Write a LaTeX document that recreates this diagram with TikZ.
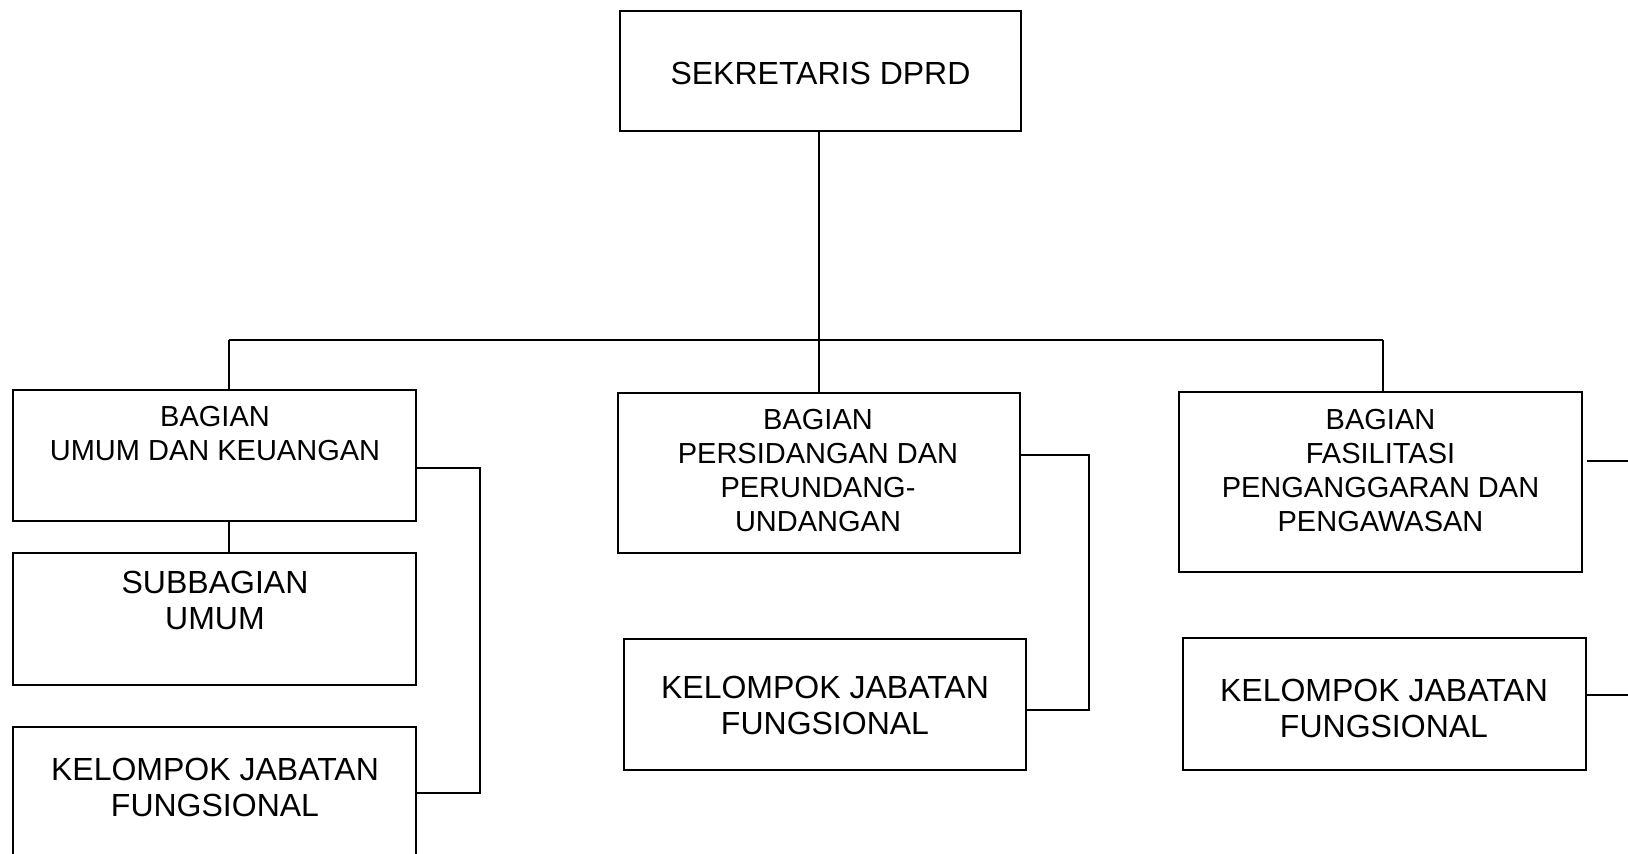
\documentclass[tikz,border=0pt]{standalone}
\usepackage{fontspec}
\setmainfont{Liberation Sans}
\tikzset{
  unit/.style={draw, line width=1.2pt, inner sep=0pt},
  bagtxt/.style={align=center, font=\fontsize{14.5}{17}\selectfont},
  bigtxt/.style={align=center, font=\fontsize{16}{18}\selectfont},
  link/.style={line width=1pt}
}
\begin{document}
\begin{tikzpicture}[x=0.5pt,y=-0.5pt]
        \useasboundingbox (0,0) rectangle (1628,854);

        % Kotak sekretaris
        \node[unit, minimum width=200.5pt, minimum height=60pt] (sek) at (820.5,71) {};
        \node[bigtxt] (sekT) at (820.5,73) {SEKRETARIS DPRD};

        % Kotak bagian
        \node[unit, minimum width=201.5pt, minimum height=65.5pt] (umum) at (214.5,455.5) {};
        \node[unit, minimum width=201pt, minimum height=80pt] (pers) at (819,473) {};
        \node[unit, minimum width=201.5pt, minimum height=90pt] (fasi) at (1380.5,482) {};

        % Subbagian dan kelompok jabatan fungsional
        \node[unit, minimum width=201.5pt, minimum height=66pt] (sub) at (214.5,619) {};
        \node[unit, minimum width=201.5pt, minimum height=80pt] (kjfA) at (214.5,807) {};
        \node[unit, minimum width=201pt, minimum height=65.5pt] (kjfB) at (825,704.5) {};
        \node[unit, minimum width=201.5pt, minimum height=66pt] (kjfC) at (1384.5,704) {};

        % Teks
        \node[bagtxt] (umumT) at (215,434) {BAGIAN\\UMUM DAN KEUANGAN};
        \node[bagtxt] (persT) at (818,471) {BAGIAN\\PERSIDANGAN DAN\\PERUNDANG-\\UNDANGAN};
        \node[bagtxt] (fasiT) at (1380.5,471) {BAGIAN\\FASILITASI\\PENGANGGARAN DAN\\PENGAWASAN};
        \node[bigtxt] (subT) at (215,600) {SUBBAGIAN\\UMUM};
        \node[bigtxt] (kjfAT) at (215,787) {KELOMPOK JABATAN\\FUNGSIONAL};
        \node[bigtxt] (kjfBT) at (825,705) {KELOMPOK JABATAN\\FUNGSIONAL};
        \node[bigtxt] (kjfCT) at (1384,708) {KELOMPOK JABATAN\\FUNGSIONAL};

        % Garis utama
        \coordinate (busL) at (229,340);
        \coordinate (busR) at (1383,340);
        \draw[link] (pers.north |- sek.south) -- (pers.north);
        \draw[link] (busL) -- (busR);
        \draw[link] (busL) -- (busL |- umum.north);
        \draw[link] (busR) -- (busR |- fasi.north);
        \draw[link] (busL |- umum.south) -- (busL |- sub.north);

        % Kurung kiri
        \coordinate (kiriA) at (480,468);
        \coordinate (kiriB) at (480,793);
        \draw[link] (umum.east |- kiriA) -- (kiriA) -- (kiriB) -- (kiriB -| kjfA.east);

        % Kurung tengah
        \coordinate (tengahA) at (1089,455);
        \coordinate (tengahB) at (1089,710);
        \draw[link] (pers.east |- tengahA) -- (tengahA) -- (tengahB) -- (tengahB -| kjfB.east);

        % Garis kanan
        \coordinate (kananA) at (1628,461);
        \coordinate (kananB) at (1628,695);
        \draw[link] (kananA -| kjfC.east) -- (kananA);
        \draw[link] (kananB -| kjfC.east) -- (kananB);
    \end{tikzpicture}
\end{document}
